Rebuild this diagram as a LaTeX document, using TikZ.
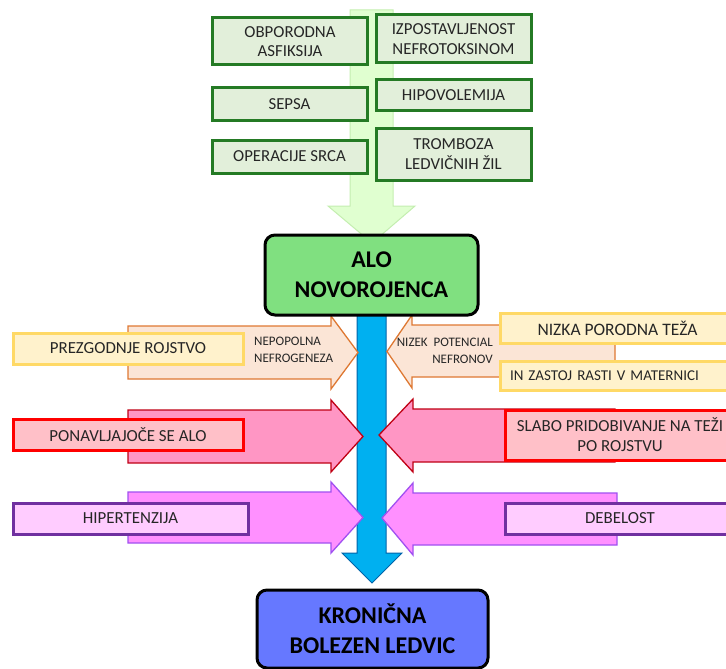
\documentclass[tikz,border=0pt]{standalone}
\usepackage{fontspec}
\setmainfont{Carlito}
\definecolor{gbfill}{RGB}{226,239,218}
\definecolor{gbdraw}{RGB}{36,122,36}
\definecolor{garfill}{RGB}{224,255,208}
\definecolor{gardraw}{RGB}{196,238,176}
\definecolor{alofill}{RGB}{128,224,128}
\definecolor{kbfill}{RGB}{102,120,255}
\definecolor{bluefill}{RGB}{0,176,240}
\definecolor{bluedraw}{RGB}{0,100,170}
\definecolor{orfill}{RGB}{251,229,214}
\definecolor{ordraw}{RGB}{222,120,50}
\definecolor{yefill}{RGB}{255,242,204}
\definecolor{yedraw}{RGB}{255,217,102}
\definecolor{rafill}{RGB}{255,150,196}
\definecolor{radraw}{RGB}{192,0,20}
\definecolor{rbfill}{RGB}{255,192,200}
\definecolor{rbdraw}{RGB}{255,0,0}
\definecolor{pafill}{RGB}{255,144,255}
\definecolor{padraw}{RGB}{160,80,240}
\definecolor{pbfill}{RGB}{255,204,255}
\definecolor{pbdraw}{RGB}{112,48,160}
\definecolor{txt}{RGB}{38,38,38}
\tikzset{
  causebox/.style={draw=gbdraw, fill=gbfill, line width=3pt, minimum width=155pt,
    align=center, text=txt, inner sep=0pt, font=\fontsize{16.8}{19.5}\selectfont},
  mainbox/.style={draw=black, line width=3pt, rounded corners=10pt, align=center,
    inner sep=0pt, font=\bfseries\fontsize{24}{30}\selectfont},
  sidebox/.style={line width=3pt, minimum height=31pt, align=center, text=txt,
    inner sep=0pt, font=\fontsize{16.9}{20}\selectfont},
  yellowbox/.style={sidebox, draw=yedraw, fill=yefill},
  redbox/.style={sidebox, draw=rbdraw, fill=rbfill},
  purplebox/.style={sidebox, draw=pbdraw, fill=pbfill},
  smalltext/.style={text=txt, inner sep=0pt, font=\fontsize{13}{16.5}\selectfont},
  orarrow/.style={draw=ordraw, fill=orfill, line width=1.3pt},
  rarrow/.style={draw=radraw, fill=rafill, line width=1.3pt},
  parrow/.style={draw=padraw, fill=pafill, line width=1.3pt},
}
\begin{document}
\begin{tikzpicture}[x=1pt,y=-1pt]
\useasboundingbox (0,0) rectangle (726,669);
\clip (0,0) rectangle (726,669);

% broad arrow carrying the causes down into the central box
\draw[draw=gardraw, fill=garfill, line width=1pt]
  (350,10) -- (393,10) -- (393,206) -- (415,206) -- (372,243) -- (328,206) -- (350,206) -- cycle;

% causes of neonatal AKI
\node[causebox, minimum height=47pt] (asf) at (290,41.5) {OBPORODNA\\ASFIKSIJA};
\node[causebox, minimum height=48pt] (nef) at (453.5,39) {IZPOSTAVLJENOST\\NEFROTOKSINOM};
\node[causebox, minimum height=32pt] (sep) at (289.5,104) {SEPSA};
\node[causebox, minimum height=30pt] (hip) at (453.5,95) {HIPOVOLEMIJA};
\node[causebox, minimum height=33pt] (ops) at (289.5,156.5) {OPERACIJE SRCA};
\node[causebox, minimum height=52pt] (trm) at (453.5,154) {TROMBOZA\\LEDVIČNIH ŽIL};

% progression arrow towards chronic kidney disease
\draw[draw=bluedraw, fill=bluefill, line width=1pt]
  (357,312) -- (386,312) -- (386,553) -- (402,553) -- (372,583) -- (342,553) -- (357,553) -- cycle;

% risk factor arrows, left side
\draw[orarrow] (128,326) -- (331,326) -- (331,316) -- (358,352.5) -- (331,389) -- (331,379) -- (128,379) -- cycle;
\draw[rarrow]  (128,410) -- (331,410) -- (331,400) -- (363,436.5) -- (331,472) -- (331,463) -- (128,463) -- cycle;
\draw[parrow]  (128,492) -- (331,492) -- (331,482) -- (363,517.5) -- (331,553) -- (331,543) -- (128,543) -- cycle;

% risk factor arrows, right side
\draw[orarrow] (615,325) -- (412,325) -- (412,315) -- (387,351.5) -- (412,388) -- (412,377) -- (615,377) -- cycle;
\draw[rarrow]  (615,409) -- (413,409) -- (413,399) -- (379,435) -- (413,472) -- (413,462) -- (615,462) -- cycle;
\draw[parrow]  (617,493) -- (413,493) -- (413,483) -- (382,518) -- (413,555) -- (413,545) -- (617,545) -- cycle;

% labels on the orange arrows
\node[smalltext, anchor=west, align=left] (nefro) at (254,350) {NEPOPOLNA\\NEFROGENEZA};
\node[smalltext, anchor=east, align=right] (pot) at (493,351) {NIZEK\ \ POTENCIAL\\NEFRONOV};

% risk factor boxes
\node[yellowbox, minimum width=230pt] (pre) at (128,348.5) {PREZGODNJE ROJSTVO};
\node[yellowbox, minimum width=235pt, minimum height=30pt, font=\fontsize{17.5}{20}\selectfont] (teza) at (617.5,328) {NIZKA PORODNA TEŽA};
\node[yellowbox, minimum width=235pt, minimum height=29pt, text width=215pt, align=left, font=\fontsize{15}{18}\selectfont] (iugr) at (617.5,375.5) {IN ZASTOJ RASTI V MATERNICI};
\node[redbox, minimum width=230pt] (rec) at (128,434.5) {PONAVLJAJOČE SE ALO};
\node[redbox, minimum width=230pt, minimum height=50pt] (slabo) at (620,435) {SLABO PRIDOBIVANJE NA TEŽI\\PO ROJSTVU};
\node[purplebox, minimum width=235pt] (htn) at (130.5,518.5) {HIPERTENZIJA};
\node[purplebox, minimum width=230pt] (deb) at (620,518.5) {DEBELOST};

% central stages
\node[mainbox, fill=alofill, minimum width=213pt, minimum height=80pt] (alo) at (371.5,275) {ALO\\NOVOROJENCA};
\node[mainbox, fill=kbfill, minimum width=231pt, minimum height=78pt] (kbl) at (372.5,629) {KRONIČNA\\BOLEZEN LEDVIC};
\end{tikzpicture}
\end{document}
